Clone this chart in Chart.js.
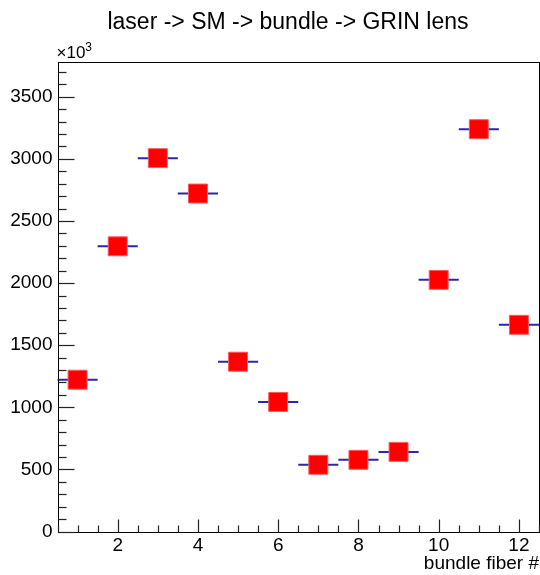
<!DOCTYPE html>
<html>
<head>
<meta charset="utf-8">
<script src="https://cdn.jsdelivr.net/npm/chart.js@4/dist/chart.umd.min.js"></script>
<style>
  html, body { margin: 0; padding: 0; background: #ffffff; }
  #wrap { width: 540px; height: 575px; }
</style>
</head>
<body>
<div id="wrap"><canvas id="c" width="540" height="575"></canvas></div>
<script>
// ---- data (values in units of 10^3) ----
const fibers = [1, 2, 3, 4, 5, 6, 7, 8, 9, 10, 11, 12];
const counts = [1222, 2296, 3006, 2721, 1367, 1043, 537, 577, 641, 2026, 3239, 1664];
const binHalfWidth = 0.5;
const xTickValues = [2, 4, 6, 8, 10, 12];
const yTickValues = [0, 500, 1000, 1500, 2000, 2500, 3000, 3500];
const titleText = 'laser -> SM -> bundle -> GRIN lens';
const xAxisTitle = 'bundle fiber #';
const yExponentBase = '\u00d710';
const yExponent = '3';

const FONT = "'Liberation Sans', Arial, Helvetica, sans-serif";

const rootPlugin = {
  id: 'rootStyle',
  beforeDatasetsDraw(chart) {
    const ctx = chart.ctx;
    const xs = chart.scales.x, ys = chart.scales.y;
    const ds = chart.data.datasets[0].data;
    ctx.save();
    ctx.strokeStyle = 'rgb(40,40,170)';
    ctx.lineWidth = 2;
    ds.forEach(p => {
      const y = ys.getPixelForValue(p.y);
      const x0 = xs.getPixelForValue(p.x - binHalfWidth);
      const x1 = xs.getPixelForValue(p.x + binHalfWidth);
      ctx.beginPath();
      ctx.moveTo(x0, y);
      ctx.lineTo(x1, y);
      ctx.stroke();
    });
    ctx.restore();
  },
  afterDraw(chart) {
    const ctx = chart.ctx;
    const a = chart.chartArea;
    const xs = chart.scales.x, ys = chart.scales.y;
    ctx.save();
    // title
    ctx.fillStyle = '#000';
    ctx.font = '23px ' + FONT;
    ctx.textAlign = 'center';
    ctx.textBaseline = 'alphabetic';
    ctx.fillText(titleText, 288, 28.5);
    // frame
    ctx.strokeStyle = '#000';
    ctx.lineWidth = 1;
    ctx.strokeRect(Math.round(a.left) + 0.5, Math.round(a.top) + 0.5,
                   Math.round(a.right - a.left) - 1, Math.round(a.bottom - a.top));
    ctx.strokeStyle = '#222';
    ctx.lineWidth = 1.2;
    // x ticks (inside)
    const xb = Math.round(a.bottom) + 0.5;
    for (let v = Math.ceil(xs.min * 2) / 2; v <= xs.max + 1e-9; v += 0.5) {
      const px = Math.round(xs.getPixelForValue(v)) + 0.5;
      const major = Math.abs(v / 2 - Math.round(v / 2)) < 1e-9;
      const len = major ? 13 : 7;
      ctx.beginPath(); ctx.moveTo(px, xb); ctx.lineTo(px, xb - len); ctx.stroke();
    }
    // y ticks (inside)
    const yl = Math.round(a.left) + 0.5;
    for (let v = 0; v <= ys.max + 1e-9; v += 100) {
      const py = Math.round(ys.getPixelForValue(v)) + 0.5;
      const major = v % 500 === 0;
      const len = major ? 16 : 8;
      ctx.beginPath(); ctx.moveTo(yl, py); ctx.lineTo(yl + len, py); ctx.stroke();
    }
    // x10^3 label
    ctx.fillStyle = '#000';
    ctx.textAlign = 'left';
    ctx.font = '17px ' + FONT;
    const bx = a.left - 1, by = a.top - 4;
    ctx.fillText(yExponentBase, bx, by);
    const w = ctx.measureText(yExponentBase).width;
    ctx.font = '12px ' + FONT;
    ctx.fillText(yExponent, bx + w, by - 7);
    ctx.restore();
  }
};

new Chart(document.getElementById('c'), {
  type: 'scatter',
  data: {
    datasets: [{
      data: fibers.map((f, i) => ({ x: f, y: counts[i] })),
      pointStyle: 'rect',
      pointRadius: 13.4,
      pointHoverRadius: 13.4,
      backgroundColor: '#ff0000',
      borderColor: 'rgba(255,90,90,1)',
      borderWidth: 1
    }]
  },
  options: {
    responsive: false,
    animation: false,
    events: [],
    layout: { autoPadding: false, padding: { left: 0, right: 1, top: 62, bottom: 0 } },
    plugins: {
      legend: { display: false },
      tooltip: { enabled: false },
      title: { display: false }
    },
    scales: {
      x: {
        type: 'linear',
        min: 0.5,
        max: 12.5,
        grid: { display: false, drawTicks: false },
        border: { display: false },
        afterBuildTicks: s => { s.ticks = xTickValues.map(v => ({ value: v })); },
        afterFit: s => { s.height = 43.5; },
        ticks: {
          color: '#000',
          padding: 3,
          maxRotation: 0,
          autoSkip: false,
          font: { family: FONT, size: 19 },
          callback: v => String(v)
        },
        title: {
          display: true,
          text: xAxisTitle,
          align: 'end',
          color: '#000',
          padding: 0,
          font: { family: FONT, size: 19 }
        }
      },
      y: {
        type: 'linear',
        min: 0,
        max: 3780,
        grid: { display: false, drawTicks: false },
        border: { display: false },
        afterBuildTicks: s => { s.ticks = yTickValues.map(v => ({ value: v })); },
        afterFit: s => { s.width = 57.5; },
        ticks: {
          color: '#000',
          padding: 5,
          autoSkip: false,
          font: { family: FONT, size: 19 },
          callback: v => String(v)
        }
      }
    }
  },
  plugins: [rootPlugin]
});
</script>
</body>
</html>
